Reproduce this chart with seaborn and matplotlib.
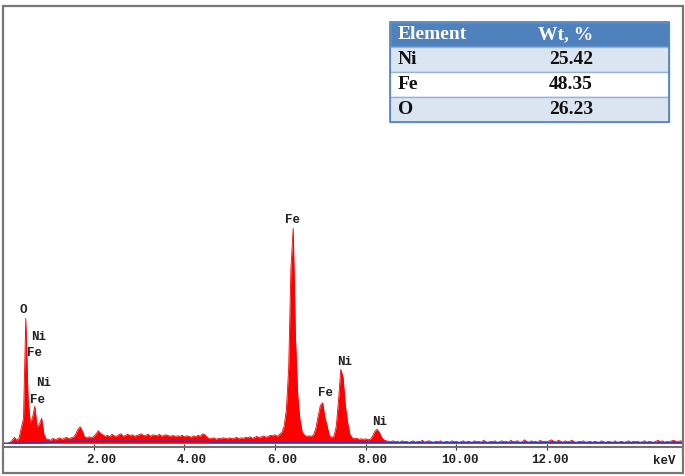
import numpy as np
import matplotlib
matplotlib.use("Agg")
import matplotlib.pyplot as plt
import matplotlib.transforms as mtransforms
from matplotlib.patches import Rectangle
import seaborn as sns

# EDX spectrum, 0.05 keV channels from 0 to 15 keV (counts)
energy_kev = np.round(np.arange(0, 15.001, 0.05), 2)
counts = [
    0, 0, 0, 10, 30, 60, 30, 50, 150, 250, 1250, 450, 200, 260, 370, 160, 190, 250, 90, 40,          # 0
    40, 30, 50, 35, 45, 55, 40, 50, 60, 45, 55, 60, 90, 140, 165, 120, 60, 55, 65, 55,              # 1
    70, 95, 125, 100, 85, 70, 80, 65, 90, 75, 70, 85, 95, 70, 80, 90, 75, 85, 70, 80,               # 2
    85, 95, 75, 80, 90, 70, 85, 80, 75, 90, 70, 80, 85, 75, 70, 80, 65, 75, 70, 80,                 # 3
    65, 75, 70, 60, 75, 65, 80, 70, 95, 85, 60, 45, 50, 55, 40, 50, 45, 55, 50, 45,                 # 4
    55, 45, 50, 60, 45, 55, 50, 60, 55, 65, 50, 60, 70, 55, 65, 75, 60, 70, 80, 75,                 # 5
    85, 70, 90, 110, 170, 340, 750, 1750, 2150, 1050, 480, 230, 110, 80, 70, 75, 70, 85, 150, 270,  # 6
    380, 405, 260, 170, 70, 60, 70, 170, 430, 740, 660, 380, 210, 90, 55, 45, 50, 40, 45, 40,       # 7
    45, 35, 40, 70, 120, 140, 110, 60, 35, 25, 20, 15, 25, 15, 20, 10, 25, 15, 20, 10,              # 8
    15, 25, 10, 20, 15, 30, 10, 20, 25, 15, 10, 20, 15, 25, 10, 15, 20, 10, 25, 15,                 # 9
    20, 10, 15, 25, 10, 20, 15, 10, 25, 15, 20, 10, 30, 15, 10, 20, 15, 25, 10, 15,                 # 10
    25, 15, 20, 10, 30, 15, 20, 25, 10, 15, 35, 20, 10, 25, 15, 20, 10, 30, 15, 20,                 # 11
    15, 25, 35, 20, 15, 30, 20, 10, 25, 15, 20, 30, 15, 10, 20, 15, 25, 10, 15, 20,                 # 12
    10, 20, 15, 10, 25, 15, 10, 20, 15, 10, 25, 10, 15, 20, 10, 15, 25, 10, 20, 15,                 # 13
    20, 10, 15, 25, 10, 20, 15, 10, 20, 30, 15, 25, 10, 20, 15, 25, 30, 15, 20, 25,                 # 14
    15,
]

# fitted background (blue line)
bg_kev = [0, 0.9, 1.5, 4.45, 4.6, 15]
bg_counts = [0, 5, 22, 22, 8, 5]

# peak labels
peak_labels = ["O", "Ni", "Fe", "Ni", "Fe", "Fe", "Fe", "Ni", "Ni"]
label_kev = [0.45, 0.78, 0.69, 0.89, 0.755, 6.38, 7.11, 7.53, 8.31]
label_counts = [1333, 1066, 906, 600, 433, 2233, 500, 816, 216]

tick_kev = [2, 4, 6, 8, 10, 12]
tick_labels = ["2.00", "4.00", "6.00", "8.00", "10.00", "12.00"]

# quantification table
elements = ["Ni", "Fe", "O"]
wt_percent = [25.42, 48.35, 26.23]

sns.set_style("white")
plt.rcParams['font.family'] = ['Liberation Mono', 'DejaVu Sans']

W, H = 685, 476
fig = plt.figure(figsize=(W / 100, H / 100), dpi=100)


def fx(px):
    return px / W


def fy(py):
    return 1 - py / H


# axes: left edge = 0 keV, bottom = axis line
ax = fig.add_axes([fx(3.1), fy(446.5), fx(683) - fx(3.1), fy(6) - fy(446.5)])

ax.fill_between(energy_kev, 0, counts, color="#ff0000", lw=0)
sns.lineplot(x=energy_kev, y=counts, color="#ff0000", lw=0.6, ax=ax)
sns.lineplot(x=bg_kev, y=bg_counts, color="#3535c8", lw=1.0, ax=ax)

for lab, xk, yc in zip(peak_labels, label_kev, label_counts):
    ax.text(xk, yc, lab, ha="center", va="center", fontsize=9,
            fontweight="bold", color="#222222")

ax.set_xlim(0, 15)
ax.set_ylim(-32, 4373)
ax.set_yticks([])
ax.set_xlabel("")
ax.set_ylabel("")
for s in ["top", "left", "right"]:
    ax.spines[s].set_visible(False)
ax.spines["bottom"].set_color("#707070")
ax.spines["bottom"].set_linewidth(1.5)

ax.set_xticks(tick_kev)
ax.set_xticklabels(tick_labels, fontsize=9, fontweight="bold", color="#222222")
ax.tick_params(axis="x", direction="inout", length=5, width=0.8,
               color="#333333", pad=3, bottom=True)
offset = mtransforms.ScaledTranslation(22 / 100, 0, fig.dpi_scale_trans)
for lbl in ax.get_xticklabels():
    lbl.set_horizontalalignment("right")
    lbl.set_transform(lbl.get_transform() + offset)

fig.text(fx(675), fy(460.7), "keV", ha="right", va="center", fontsize=9,
         fontweight="bold", color="#222222")

# outer frame
fig.patches.append(Rectangle((fx(3), fy(473)), fx(683) - fx(3), fy(6) - fy(473),
                             transform=fig.transFigure, fill=False,
                             edgecolor="#777777", lw=1.6))

# table
tx0, tx1 = 390, 669
row_top = [22, 47, 72, 97]
row_h = 25
row_colors = ["#4f81bd", "#dbe5f1", "#ffffff", "#dbe5f1"]
for top, col in zip(row_top, row_colors):
    fig.patches.append(Rectangle((fx(tx0), fy(top + row_h)), fx(tx1) - fx(tx0),
                                 fy(top) - fy(top + row_h), transform=fig.transFigure,
                                 facecolor=col, edgecolor="#95b3d7", lw=1.0))
fig.patches.append(Rectangle((fx(tx0), fy(122)), fx(tx1) - fx(tx0), fy(22) - fy(122),
                             transform=fig.transFigure, fill=False,
                             edgecolor="#4f81bd", lw=1.2))

serif = ["Liberation Serif", "DejaVu Serif"]
fig.text(fx(398), fy(row_top[0] + row_h / 2), "Element", ha="left", va="center",
         fontsize=14, fontweight="bold", family=serif, color="white")
fig.text(fx(593), fy(row_top[0] + row_h / 2), "Wt, %", ha="right", va="center",
         fontsize=14, fontweight="bold", family=serif, color="white")
for i, (el, wt) in enumerate(zip(elements, wt_percent)):
    yc = row_top[i + 1] + row_h / 2
    fig.text(fx(398), fy(yc), el, ha="left", va="center", fontsize=14,
             fontweight="bold", family=serif, color="#111111")
    fig.text(fx(593), fy(yc), f"{wt:.2f}", ha="right", va="center", fontsize=14,
             fontweight="bold", family=serif, color="#111111")

fig.savefig("out.png", dpi=100)
